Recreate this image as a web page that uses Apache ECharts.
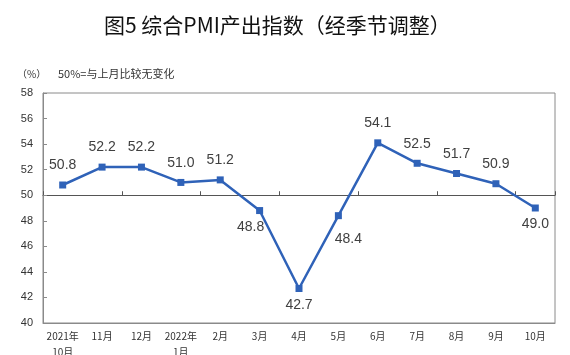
<!DOCTYPE html>
<html>
<head>
<meta charset="utf-8">
<script src="https://cdn.jsdelivr.net/npm/echarts@6/dist/echarts.min.js"></script>
<style>
  html, body { margin: 0; padding: 0; background: #fff; }
  #chart { width: 570px; height: 355px; }
</style>
</head>
<body>
<div id="chart"></div>
<script>
const months = ['2021年\n10月', '11月', '12月', '2022年\n1月', '2月', '3月', '4月', '5月', '6月', '7月', '8月', '9月', '10月']
const pmiValues = [50.8, 52.2, 52.2, 51.0, 51.2, 48.8, 42.7, 48.4, 54.1, 52.5, 51.7, 50.9, 49.0]
const yTicks = { min: 40, max: 58, interval: 2 }
const baseline = 50

// where each value label sits relative to its point
const labelPlacement = ['top', 'top', 'top', 'top', 'top', 'leftBelow', 'bottom', 'rightBelow', 'top', 'top', 'top', 'top', 'bottom']

const GRID = { left: 43, right: 15, top: 93, bottom: 32 }
const plotHeight = 355 - GRID.top - GRID.bottom
const baselineOffset = -((baseline - yTicks.min) / (yTicks.max - yTicks.min)) * plotHeight

function labelFor(kind) {
  if (kind === 'top') {
    return { position: 'top', distance: 9 }
  }
  if (kind === 'bottom') {
    return { position: 'bottom', distance: 6 }
  }
  if (kind === 'leftBelow') {
    return { position: 'inside', offset: [-9, 17] }
  }
  return { position: 'inside', offset: [10, 23] }
}

const seriesData = pmiValues.map((v, i) => ({
  value: v,
  label: labelFor(labelPlacement[i])
}))

const chart = echarts.init(document.getElementById('chart'))
chart.setOption({
  backgroundColor: '#fff',
  animation: false,
  title: [
    {
      text: '图5 综合PMI产出指数（经季节调整）',
      left: 99,
      top: 10,
      textStyle: {
        fontFamily: 'Noto Sans CJK SC',
        fontSize: 21,
        fontWeight: 'normal',
        color: '#111'
      }
    },
    {
      text: '（%）',
      left: 12,
      top: 64,
      textStyle: { fontFamily: 'Noto Sans CJK SC', fontSize: 10, fontWeight: 'normal', color: '#333' }
    },
    {
      text: '50%=与上月比较无变化',
      left: 53,
      top: 63,
      textStyle: { fontFamily: 'Noto Sans CJK SC', fontSize: 11, fontWeight: 'normal', color: '#333' }
    }
  ],
  grid: {
    left: GRID.left,
    right: GRID.right,
    top: GRID.top,
    bottom: GRID.bottom,
    outerBoundsMode: 'none',
    containLabel: false,
    show: true,
    borderColor: '#8a8a8a',
    borderWidth: 1
  },
  xAxis: [
    {
      type: 'category',
      data: months,
      boundaryGap: true,
      axisLine: { lineStyle: { color: '#8a8a8a' } },
      axisTick: { show: false },
      axisLabel: {
        color: '#333',
        fontFamily: 'Noto Sans CJK SC',
        fontSize: 10,
        lineHeight: 16,
        margin: 5,
        interval: 0
      }
    },
    {
      type: 'category',
      data: months,
      position: 'bottom',
      offset: baselineOffset,
      boundaryGap: true,
      axisLine: { show: true, lineStyle: { color: '#555', width: 1 } },
      axisTick: { show: true, inside: true, length: 4, lineStyle: { color: '#555' } },
      axisLabel: { show: false }
    }
  ],
  yAxis: {
    type: 'value',
    min: yTicks.min,
    max: yTicks.max,
    interval: yTicks.interval,
    axisLine: { show: true, lineStyle: { color: '#8a8a8a' } },
    axisTick: { show: true, inside: true, length: 4, lineStyle: { color: '#8a8a8a' } },
    splitLine: { show: false },
    axisLabel: {
      color: '#333',
      fontFamily: 'Liberation Sans',
      fontSize: 11,
      margin: 10
    }
  },
  series: [
    {
      type: 'line',
      xAxisIndex: 0,
      data: seriesData,
      symbol: 'rect',
      symbolSize: 7,
      lineStyle: { color: '#2f62b8', width: 2.5 },
      itemStyle: { color: '#2f62b8' },
      label: {
        show: true,
        color: '#404040',
        fontFamily: 'Liberation Sans',
        fontSize: 14,
        formatter: p => p.value.toFixed(1)
      }
    }
  ]
})
</script>
</body>
</html>
